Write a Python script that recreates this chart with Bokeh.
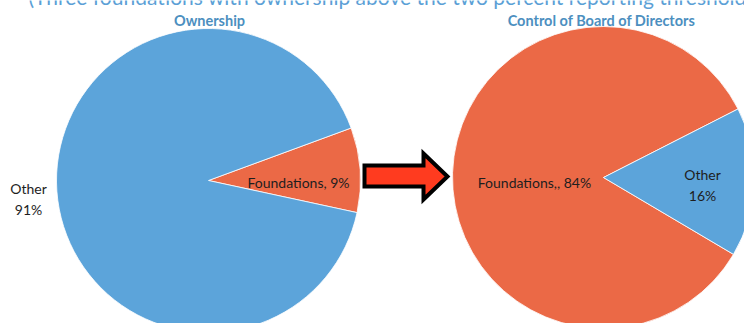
import math
from bokeh.plotting import figure
from bokeh.models import Range1d
from bokeh.embed import file_html
from bokeh.resources import INLINE
from bokeh.core.properties import value

# ---- data ----
subtitle = "(Three foundations with ownership above the two percent reporting threshold)"
own_title = "Ownership"
own_labels = ["Foundations", "Other"]
own_values = [9, 91]
own_formats = ["{}, {}%", "{}\n{}%"]
board_title = "Control of Board of Directors"
board_labels = ["Foundations", "Other"]
board_values = [84, 16]
board_formats = ["{},, {}%", "{}\n{}%"]

# ---- layout / style ----
W, H = 744, 323
BLUE = "#5CA4DA"
ORANGE = "#EB6946"
TITLE_C = "#4C8FBF"
SUB_C = "#5B9FD6"
TXT_C = "#1E1E1E"

p = figure(width=W, height=H, output_backend="svg", toolbar_location=None,
           x_range=Range1d(0, W), y_range=Range1d(0, H), min_border=0,
           margin=(0, 0, 0, 0))
p.axis.visible = False
p.grid.visible = False
p.outline_line_color = None
p.background_fill_color = "white"
p.border_fill_color = "white"


def pie(cx, cy, r, labels, values, start_deg, colors, fmts, offsets):
    total = float(sum(values))
    a = math.radians(start_deg)
    starts, ends = [], []
    for v in values:
        starts.append(a)
        a += 2 * math.pi * v / total
        ends.append(a)
    p.wedge(x=[cx] * len(values), y=[cy] * len(values), radius=r,
            start_angle=starts, end_angle=ends, direction="anticlock",
            fill_color=colors, line_color="white", line_width=0.8)
    texts = [f.format(l, v) for f, l, v in zip(fmts, labels, values)]
    p.text(x=[cx + o[0] for o in offsets], y=[cy + o[1] for o in offsets], text=texts,
           text_align="center", text_baseline="middle", text_font=value("Lato"),
           text_font_size="14px", text_color=TXT_C, text_line_height=1.25)


# left pie: Ownership
pie(208, H - 180, 152, own_labels, own_values, -12.2, [ORANGE, BLUE], own_formats,
    [(90, -2), (-180, -18.5)])
# right pie: Board control
pie(603, H - 177, 151, board_labels, board_values, 27.0, [ORANGE, BLUE], board_formats,
    [(-69, -5), (99, -7.5)])

# titles
p.text(x=[209, 601], y=[H - 20, H - 20], text=[own_title, board_title],
       text_align="center", text_baseline="middle", text_font=value("Lato"),
       text_font_size="14.5px", text_font_style="bold", text_color=TITLE_C)
p.text(x=[28], y=[H + 4], text=[subtitle], text_align="left", text_baseline="alphabetic",
       text_font=value("Lato"), text_font_size="21px", text_color=SUB_C)

# arrow between the pies
ax = [364, 423, 423, 447, 423, 423, 364]
ay = [165, 165, 153, 176, 199, 186, 186]
p.patch(x=ax, y=[H - v for v in ay], fill_color="#FF3B1F", line_color="black",
        line_width=4, line_join="miter")

open("out.html", "w").write(file_html(p, INLINE))
